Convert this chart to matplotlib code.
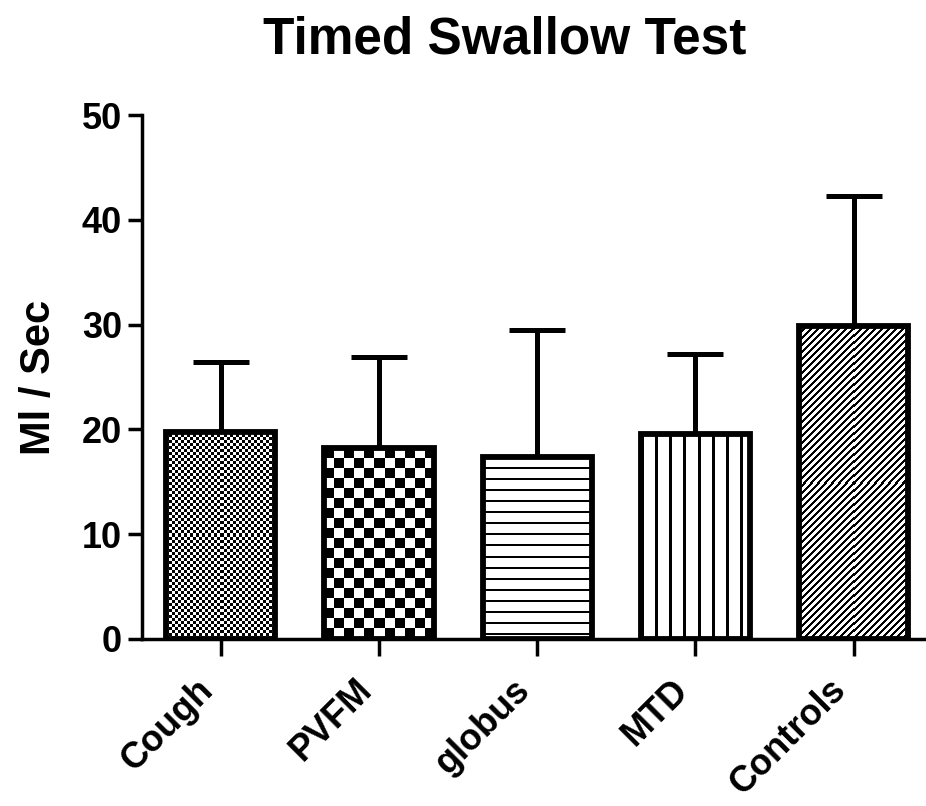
import numpy as np
import matplotlib
matplotlib.use('Agg')
import matplotlib.pyplot as plt

plt.rcParams['font.family'] = ['Liberation Sans', 'DejaVu Sans']
plt.rcParams['font.weight'] = 'bold'

groups = ['Cough', 'PVFM', 'globus', 'MTD', 'Controls']
means = [19.8, 18.2, 17.4, 19.6, 29.9]
upper_sd = [6.6, 8.7, 12.1, 7.6, 12.4]
patterns = ['fine', 'checker', 'hlines', 'vlines', 'diag']


def make_pattern(kind, h, w):
    r, c = np.indices((h, w))
    if kind == 'fine':
        img = (r // 3 + c // 3) % 2
    elif kind == 'checker':
        img = (r // 10 + c // 10) % 2
    elif kind == 'hlines':
        img = (r % 11) >= 2
    elif kind == 'vlines':
        img = (c % 14) >= 3
    else:
        img = ((r + c) % 7) >= 3
    return img.astype(float)


fig = plt.figure(figsize=(9.26, 8.06), dpi=100)
ax = fig.add_axes([0.153, 0.2072, 0.8456, 0.650])

x = np.arange(len(groups))
xlim = (-0.5, 4.45)
ylim = (0, 50)
ax.set_xlim(*xlim)
ax.set_ylim(*ylim)

ax.errorbar(x, means, yerr=[np.zeros(len(means)), upper_sd], fmt='none',
            ecolor='black', elinewidth=3.6, capsize=20, capthick=3.6, zorder=1)
bars = ax.bar(x, means, width=0.69, facecolor='none', edgecolor='black',
              linewidth=4.2, zorder=3)

# fill each bar with its pattern, clipped to the bar outline
for bar, kind in zip(bars, patterns):
    x0, y0 = bar.get_x(), bar.get_y()
    x1, y1 = x0 + bar.get_width(), y0 + bar.get_height()
    p0 = ax.transData.transform((x0, y0))
    p1 = ax.transData.transform((x1, y1))
    w = int(round(abs(p1[0] - p0[0])))
    h = int(round(abs(p1[1] - p0[1])))
    im = ax.imshow(make_pattern(kind, h, w), cmap='gray', vmin=0, vmax=1,
                   extent=(x0, x1, y0, y1), aspect='auto',
                   interpolation='none', zorder=2)
    im.set_clip_path(bar)

ax.set_xlim(*xlim)
ax.set_ylim(*ylim)

for s in ['top', 'right']:
    ax.spines[s].set_visible(False)
for s in ['left', 'bottom']:
    ax.spines[s].set_linewidth(2.5)

ax.set_yticks([0, 10, 20, 30, 40, 50])
ax.tick_params(axis='y', direction='out', length=10, width=2.5, pad=4,
               labelsize=26)
ax.set_xticks(x)
ax.set_xticklabels(groups, rotation=45, ha='right', va='top', fontsize=26)
ax.tick_params(axis='x', direction='out', length=12, width=2.5, pad=12)

fig.text(0.042, 0.532, 'Ml / Sec', rotation=90, ha='center', va='center',
         fontsize=30, fontweight='bold')
fig.text(0.545, 0.934, 'Timed Swallow Test', ha='center', va='baseline',
         fontsize=37, fontweight='bold')

fig.savefig('out.png', dpi=100)
